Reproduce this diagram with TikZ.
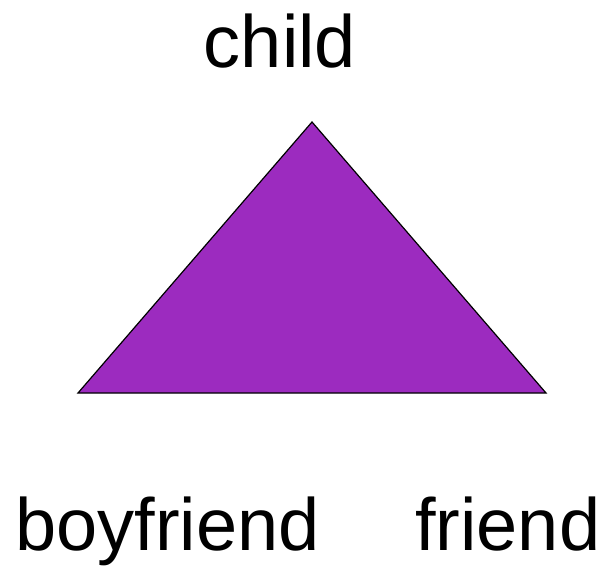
\documentclass[tikz,border=0pt]{standalone}
\usepackage{fontspec}
\setmainfont{Liberation Sans}
\definecolor{trianglepurple}{HTML}{9C2BBF}
\tikzset{
  corner label/.style={inner sep=0pt, font=\fontsize{74}{80}\selectfont},
}
\begin{document}
\begin{tikzpicture}[x=1pt,y=1pt]
% canvas, same size as the reference
\useasboundingbox (0,0) rectangle (605,566);
% triangle corners
\coordinate (top) at (312,444);
\coordinate (left) at (78,173);
\coordinate (right) at (546,173);
\filldraw[fill=trianglepurple,draw=black,line width=1.2pt,line join=miter]
  (top) -- (left) -- (right) -- cycle;
% labels
\node[corner label,anchor=base] (child) at (280,498) {child};
\node[corner label,anchor=base west] (boyfriend) at (15,16) {boyfriend};
\node[corner label,anchor=base west] (friend) at (415,16) {friend};
\end{tikzpicture}
\end{document}
